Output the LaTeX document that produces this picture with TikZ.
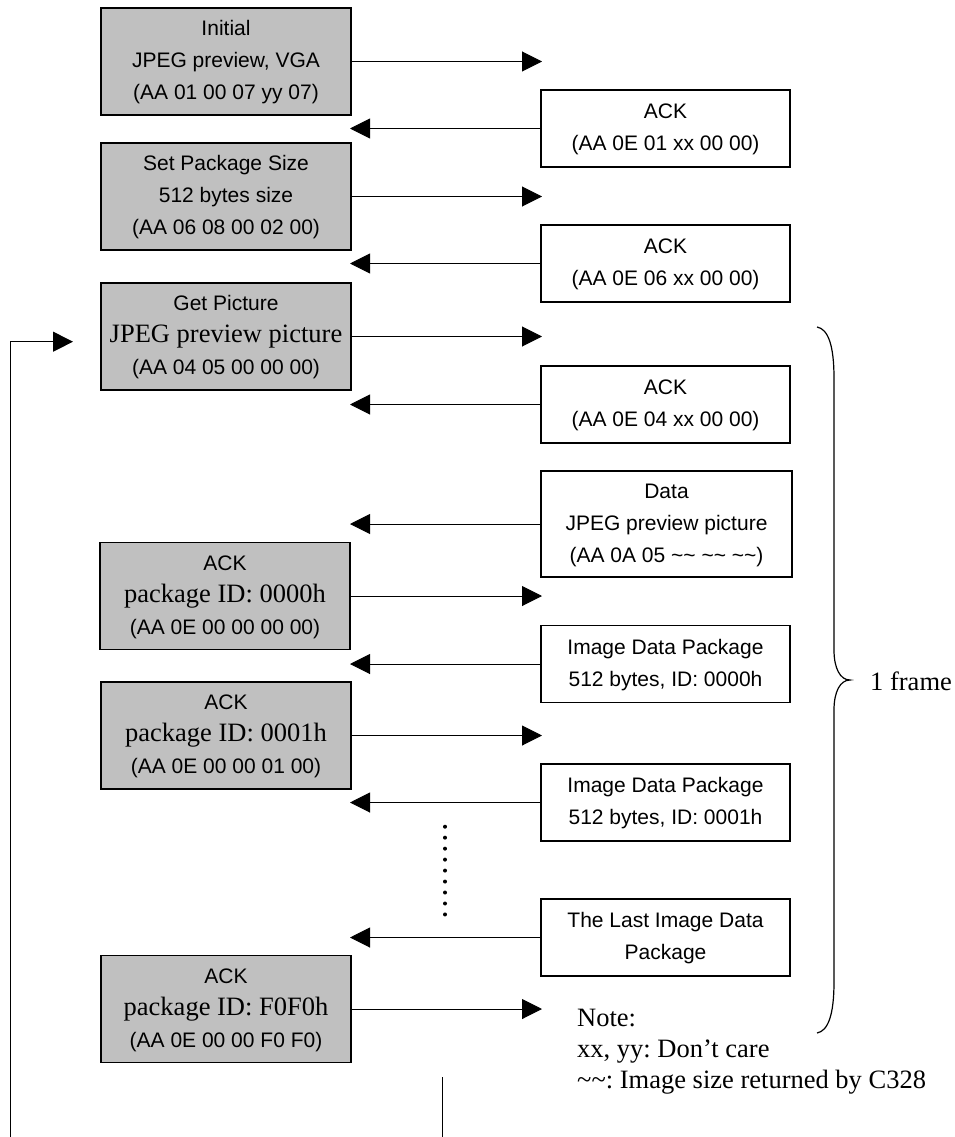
\documentclass[tikz,border=0pt]{standalone}
\usepackage{fontspec}
\usepackage{array}
\newfontfamily\arialf{Liberation Sans}
\newfontfamily\tnr{Liberation Serif}
\usetikzlibrary{arrows.meta}
\definecolor{boxgray}{RGB}{192,192,192}
\newcommand\blines[2][3.4pt]{\raisebox{-#1}{\begin{tabular}{@{}c@{}}#2\end{tabular}}}
\newcommand\tl[1]{{\tnr\fontsize{26.5}{32}\selectfont #1}}
\frenchspacing
\begin{document}
\begin{tikzpicture}[x=1pt,y=-1pt,
  gbox/.style={draw, line width=1.3pt, fill=boxgray, minimum width=250pt, minimum height=107pt, inner sep=0pt, font=\arialf\fontsize{21}{32}\selectfont},
  wbox/.style={draw, line width=1.3pt, fill=white, minimum width=249pt, minimum height=77pt, inner sep=0pt, font=\arialf\fontsize{21}{32}\selectfont},
  arr/.style={-{Triangle[length=20pt,width=20pt]}, line width=1pt},
  ln/.style={line width=1pt},
  note/.style={font=\tnr\fontsize{26.5}{31}\selectfont, inner sep=0pt}
]
\useasboundingbox (0,0) rectangle (954,1137);

% host commands (gray)
\node[gbox] (g1) at (226,61.5) {\blines{Initial\\JPEG preview, VGA\\(AA 01 00 07 yy 07)}};
\node[gbox] (g2) at (226,196.5) {\blines{Set Package Size\\512 bytes size\\(AA 06 08 00 02 00)}};
\node[gbox] (g3) at (226,336.5) {\blines{Get Picture\\\tl{JPEG preview picture}\\(AA 04 05 00 00 00)}};
\node[gbox] (g4) at (225,596) {\blines{ACK\\\tl{package ID: 0000h}\\(AA 0E 00 00 00 00)}};
\node[gbox] (g5) at (226,735.5) {\blines{ACK\\\tl{package ID: 0001h}\\(AA 0E 00 00 01 00)}};
\node[gbox] (g6) at (226,1009) {\blines{ACK\\\tl{package ID: F0F0h}\\(AA 0E 00 00 F0 F0)}};

% camera replies (white)
\node[wbox] (w1) at (665.5,128.5) {\blines[1.6pt]{ACK\\(AA 0E 01 xx 00 00)}};
\node[wbox] (w2) at (665.5,263.5) {\blines[1.6pt]{ACK\\(AA 0E 06 xx 00 00)}};
\node[wbox] (w3) at (665.5,404.5) {\blines[1.6pt]{ACK\\(AA 0E 04 xx 00 00)}};
\node[wbox, minimum width=251pt, minimum height=106pt] (w4) at (666.5,524) {\blines{Data\\JPEG preview picture\\(AA 0A 05 \textasciitilde\textasciitilde{} \textasciitilde\textasciitilde{} \textasciitilde\textasciitilde)}};
\node[wbox] (w5) at (665.5,664) {\blines[1.6pt]{Image Data Package\\512 bytes, ID: 0000h}};
\node[wbox] (w6) at (665.5,802.5) {\blines[1.6pt]{Image Data Package\\512 bytes, ID: 0001h}};
\node[wbox] (w7) at (665.5,937.5) {\blines[1.6pt]{The Last Image Data\\Package}};

% arrow end points
\coordinate (r1) at (542,61.5);
\coordinate (r2) at (542,196.5);
\coordinate (r3) at (542,336.5);
\coordinate (r4) at (542,596);
\coordinate (r5) at (542,735.5);
\coordinate (r6) at (542,1009);
\coordinate (l1) at (350,128.5);
\coordinate (l2) at (350,263.5);
\coordinate (l3) at (350,404.5);
\coordinate (l4) at (350,524);
\coordinate (l5) at (350,664);
\coordinate (l6) at (350,802.5);
\coordinate (l7) at (350,937.5);

\draw[arr] (g1.east) -- (r1);
\draw[arr] (g2.east) -- (r2);
\draw[arr] (g3.east) -- (r3);
\draw[arr] (g4.east |- r4) -- (r4);
\draw[arr] (g5.east) -- (r5);
\draw[arr] (g6.east) -- (r6);
\draw[arr] (w1.west) -- (l1);
\draw[arr] (w2.west) -- (l2);
\draw[arr] (w3.west) -- (l3);
\draw[arr] (w4.west) -- (l4);
\draw[arr] (w5.west) -- (l5);
\draw[arr] (w6.west) -- (l6);
\draw[arr] (w7.west) -- (l7);

% loop back
\coordinate (lb) at (10,1137);
\coordinate (lc) at (10,341.7);
\coordinate (li) at (73,341.7);
\draw[arr] (lb) -- (lc) -- (li);

% bottom vertical line
\coordinate (vt) at (442,1077);
\coordinate (vb) at (442,1137);
\draw[ln] (vt) -- (vb);

% dotted continuation
\coordinate (dt) at (445,826.7);
\coordinate (db) at (445,914.5);
\draw[line width=4pt, line cap=round, dash pattern=on 0pt off 10.97pt] (dt) -- (db);

% brace
\draw[line width=1.2pt] (817,327) .. controls (828,329) and (834,345) .. (834,378) -- (834,650)
  .. controls (834,668) and (840,680) .. (850,680)
  .. controls (840,680) and (834,692) .. (834,710) -- (834,982)
  .. controls (834,1015) and (828,1031) .. (817,1033);
\node[note, anchor=base west] (frame) at (870,690.5) {1 frame};

% note
\node[note, anchor=base west] (notes) at (577,1026.7) {\begin{tabular}[t]{@{}l@{}}Note:\\xx, yy: Don’t care\\\textasciitilde\textasciitilde: Image size returned by C328\end{tabular}};
\end{tikzpicture}
\end{document}
